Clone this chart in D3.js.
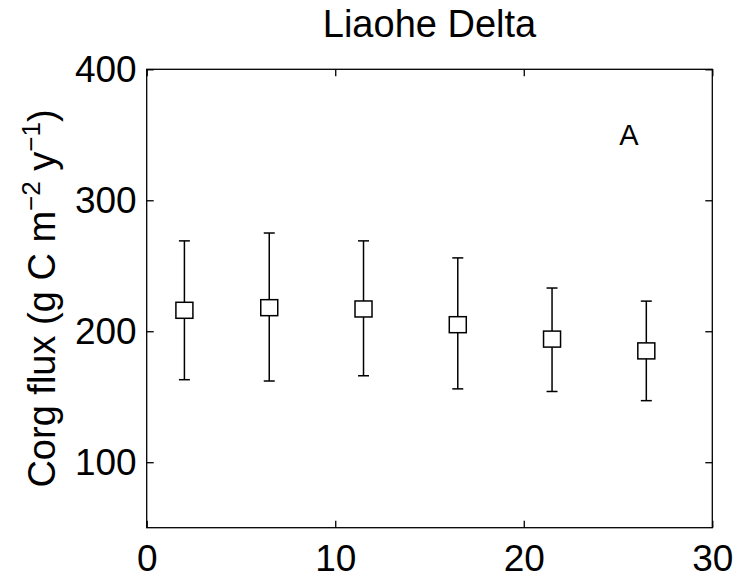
<!DOCTYPE html>
<html>
<head>
<meta charset="utf-8">
<script src="https://cdn.jsdelivr.net/npm/d3@7"></script>
<style>
  html, body { margin: 0; padding: 0; background: #fff; }
  svg { display: block; }
  text { font-family: "Liberation Sans", Arial, Helvetica, sans-serif; fill: #000; }
</style>
</head>
<body>
<svg id="chart" width="737" height="578"></svg>
<script>
// Organic carbon flux by depth interval, Liaohe Delta
const depth = [2, 6.5, 11.5, 16.5, 21.5, 26.5];
const flux = [216, 218, 217, 205, 194, 185];
const fluxLow = [163, 162, 166, 156, 154, 147];
const fluxHigh = [269, 275, 269, 256, 233, 223];
const xTicks = [0, 10, 20, 30];
const yTicks = [100, 200, 300, 400];

const svg = d3.select("#chart");
const W = 737, H = 578;
const margin = { left: 146.7, right: W - 712.3, top: 69.3, bottom: H - 527.7 };

const x = d3.scaleLinear().domain([0, 30]).range([margin.left, W - margin.right]);
const y = d3.scaleLinear().domain([50, 400]).range([H - margin.bottom, margin.top]);

const tickLen = 7;
const g = svg.append("g");

// Frame
g.append("rect")
  .attr("x", x(0)).attr("y", y(400))
  .attr("width", x(30) - x(0)).attr("height", y(50) - y(400))
  .attr("fill", "none").attr("stroke", "#000").attr("stroke-width", 1.3);

// Axes with inward ticks on all four sides
const axB = d3.axisBottom(x).tickValues(xTicks).tickSize(-tickLen).tickPadding(17).tickFormat(d3.format("d"));
const axT = d3.axisTop(x).tickValues(xTicks).tickSize(-tickLen).tickFormat("");
const axL = d3.axisLeft(y).tickValues(yTicks).tickSize(-tickLen).tickPadding(10).tickFormat(d3.format("d"));
const axR = d3.axisRight(y).tickValues(yTicks).tickSize(-tickLen).tickFormat("");

function styleAxis(sel) {
  sel.select(".domain").remove();
  sel.selectAll(".tick line").attr("stroke", "#000").attr("stroke-width", 1.3);
  sel.selectAll(".tick text").attr("font-family", null).attr("fill", "#000").style("font-size", "37px");
}

g.append("g").attr("transform", `translate(0,${y(50)})`).call(axB).call(styleAxis);
g.append("g").attr("transform", `translate(0,${y(400)})`).call(axT).call(styleAxis);
g.append("g").attr("transform", `translate(${x(0)},0)`).call(axL).call(styleAxis);
g.append("g").attr("transform", `translate(${x(30)},0)`).call(axR).call(styleAxis);

// Error bars
const capW = 11;
const bars = g.append("g").selectAll("g").data(depth).join("g");
bars.append("line")
  .attr("x1", (d) => x(d)).attr("x2", (d) => x(d))
  .attr("y1", (d, i) => y(fluxLow[i])).attr("y2", (d, i) => y(fluxHigh[i]))
  .attr("stroke", "#000").attr("stroke-width", 1.5);
bars.append("line")
  .attr("x1", (d) => x(d) - capW / 2).attr("x2", (d) => x(d) + capW / 2)
  .attr("y1", (d, i) => y(fluxHigh[i])).attr("y2", (d, i) => y(fluxHigh[i]))
  .attr("stroke", "#000").attr("stroke-width", 1.5);
bars.append("line")
  .attr("x1", (d) => x(d) - capW / 2).attr("x2", (d) => x(d) + capW / 2)
  .attr("y1", (d, i) => y(fluxLow[i])).attr("y2", (d, i) => y(fluxLow[i]))
  .attr("stroke", "#000").attr("stroke-width", 1.5);

// Square markers
const mw = 17, mh = 16;
bars.append("rect")
  .attr("x", (d) => x(d) - mw / 2)
  .attr("y", (d, i) => y(flux[i]) - mh / 2)
  .attr("width", mw).attr("height", mh)
  .attr("fill", "#fff").attr("stroke", "#000").attr("stroke-width", 1.5);

// Title
svg.append("text")
  .attr("x", (x(0) + x(30)) / 2).attr("y", 37)
  .attr("text-anchor", "middle")
  .style("font-size", "38px")
  .text("Liaohe Delta");

// Panel letter
svg.append("text")
  .attr("x", 629).attr("y", 145)
  .attr("text-anchor", "middle")
  .style("font-size", "29px")
  .text("A");

// Y-axis label with superscripts
const yl = svg.append("text")
  .attr("transform", `translate(55,${(y(50) + y(400)) / 2}) rotate(-90)`)
  .attr("text-anchor", "middle")
  .style("font-size", "38px");
yl.append("tspan").text("Corg flux (g C m");
yl.append("tspan").attr("dy", -15).style("font-size", "26px").text("\u22122");
yl.append("tspan").attr("dy", 15).text(" y");
yl.append("tspan").attr("dy", -15).style("font-size", "26px").text("\u22121");
yl.append("tspan").attr("dy", 15).text(")");
</script>
</body>
</html>
